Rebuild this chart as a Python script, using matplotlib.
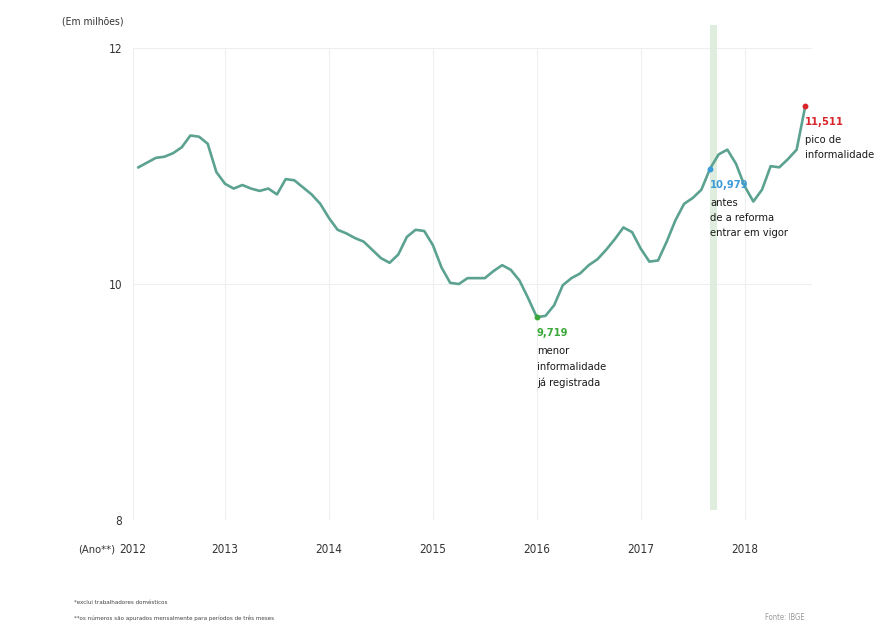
import matplotlib
matplotlib.use("Agg")
import matplotlib.pyplot as plt
import numpy as np

plt.rcParams['font.family'] = ['DejaVu Sans']
plt.rcParams['font.stretch'] = 'condensed'

# Informal workers (millions), moving quarters, monthly from Mar 2012 to Aug 2018
values = [
    10.99, 11.03, 11.07, 11.08, 11.11, 11.16, 11.26, 11.25, 11.19, 10.95,
    10.85, 10.81, 10.84, 10.81, 10.79, 10.81, 10.76, 10.89, 10.88, 10.82,
    10.76, 10.68, 10.56, 10.46, 10.43, 10.39, 10.36, 10.29, 10.22, 10.18,
    10.25, 10.40, 10.46, 10.45, 10.33, 10.14, 10.01, 10.00, 10.05, 10.05,
    10.05, 10.11, 10.16, 10.12, 10.03, 9.88, 9.719, 9.73, 9.82, 9.99,
    10.05, 10.09, 10.16, 10.21, 10.29, 10.38, 10.48, 10.44, 10.30, 10.19,
    10.20, 10.36, 10.54, 10.68, 10.73, 10.80, 10.979, 11.10, 11.14, 11.02,
    10.83, 10.70, 10.80, 11.00, 10.99, 11.06, 11.14, 11.511,
]
start_year, start_month = 2012, 3
years = [2012, 2013, 2014, 2015, 2016, 2017, 2018]
y_ticks = [8, 10, 12]

# highlighted points: (index, label, colour, description)
highlights = [
    (46, "9,719", "#3aa83a", "menor\ninformalidade\njá registrada"),
    (66, "10,979", "#3b9ad9", "antes\nde a reforma\nentrar em vigor"),
    (77, "11,511", "#d9252a", "pico de\ninformalidade"),
]

t = start_year + (start_month - 1 + np.arange(len(values))) / 12.0

fig = plt.figure(figsize=(8.87, 6.27), dpi=100)
ax = fig.add_axes([0.150, 0.171, 0.765, 0.752])

x_left, x_right = 2012.115, 2018.644
ax.set_xlim(x_left, x_right)
ax.set_ylim(8, 12)

grid_c = "#efefef"
for yr in years[1:]:
    ax.axvline(yr, color=grid_c, lw=0.8, zorder=0)
ax.axvline(x_left, color=grid_c, lw=0.8, zorder=0)
ax.axvline(x_right, color=grid_c, lw=0.8, zorder=0)
for yv in y_ticks:
    ax.axhline(yv, color=grid_c, lw=0.8, zorder=0)

# reform band
ref_t = t[highlights[1][0]]
ax.axvspan(ref_t - 0.005, ref_t + 0.065, ymin=0.02, ymax=1.05, color="#dcebdc",
           alpha=0.9, lw=0, zorder=1, clip_on=False)

ax.plot(t, values, color="#5ca291", lw=1.9, zorder=3)

for idx, lab, col, desc in highlights:
    ax.plot(t[idx], values[idx], "o", ms=3.2, color=col, zorder=4)
    ax.annotate(lab, (t[idx], values[idx]), xytext=(0, -8), textcoords="offset points",
                ha="left", va="top", color=col, fontsize=8, fontweight="bold")
    ax.annotate(desc, (t[idx], values[idx]), xytext=(0, -21), textcoords="offset points",
                ha="left", va="top", color="#1a1a1a", fontsize=8, linespacing=1.65)

for s in ax.spines.values():
    s.set_visible(False)
ax.set_yticks(y_ticks)
ax.set_yticklabels([str(v) for v in y_ticks])
ax.set_xticks([x_left] + years[1:])
ax.set_xticklabels([str(y) for y in years])
ax.tick_params(length=0, labelsize=8.5, colors="#333333")
ax.tick_params(axis="x", pad=17)
ax.tick_params(axis="y", pad=8)

fig.text(62 / 887, 1 - 22 / 627, "(Em milhões)", fontsize=7.5, color="#333333", va="center")
fig.text(78 / 887, 1 - 549 / 627, "(Ano**)", fontsize=8, color="#333333", va="center")
fig.text(74 / 887, 1 - 603 / 627, "*exclui trabalhadores domésticos", fontsize=4.5,
         color="#444444", va="center")
fig.text(74 / 887, 1 - 618 / 627,
         "**os números são apurados mensalmente para períodos de três meses",
         fontsize=4.5, color="#444444", va="center")
fig.text(765 / 887, 1 - 618 / 627, "Fonte: IBGE", fontsize=5.5, color="#999999", va="center")

fig.savefig("out.png", dpi=100, facecolor="white")
